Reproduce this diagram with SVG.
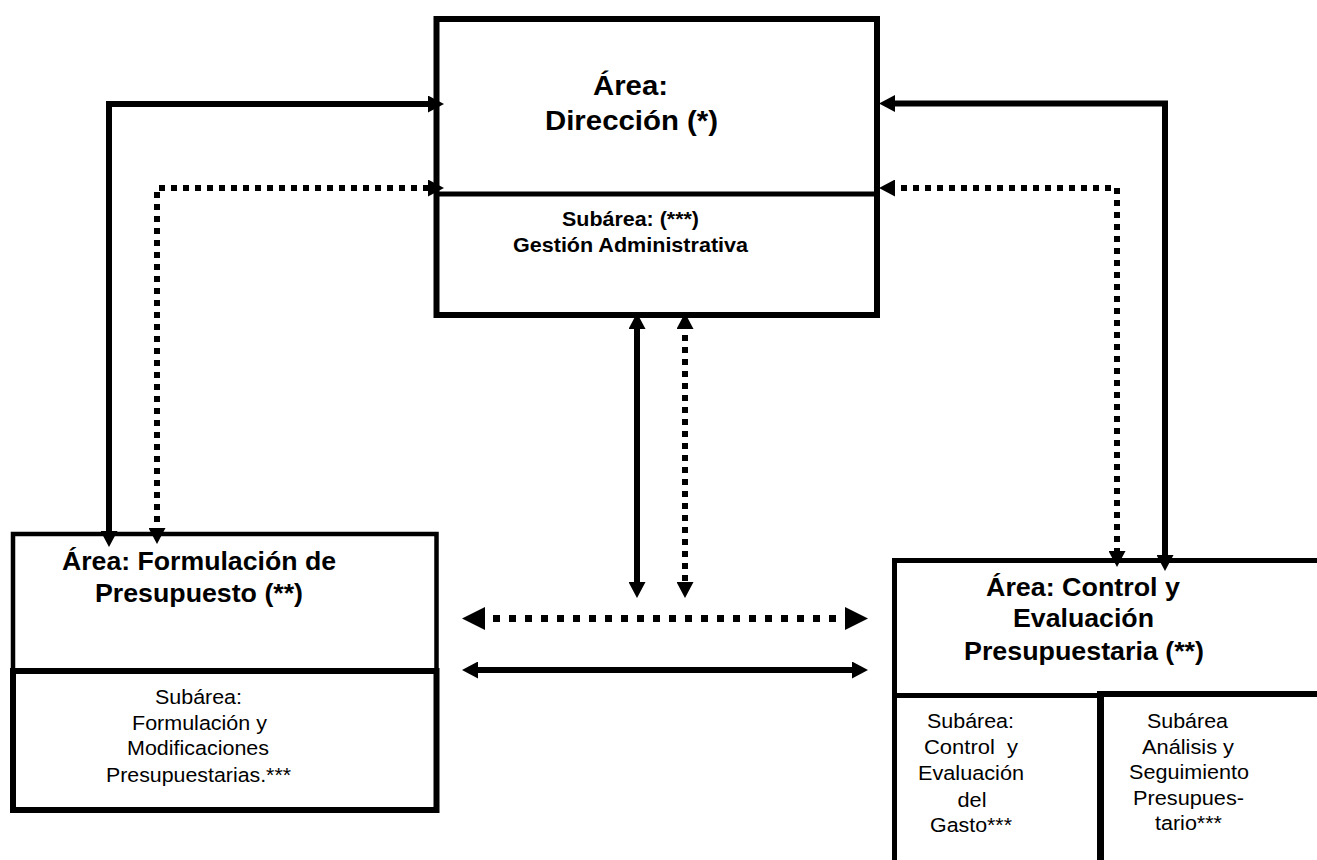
<svg xmlns="http://www.w3.org/2000/svg" width="1317" height="860" viewBox="0 0 1317 860">
  <style>
    .box { fill: none; stroke: #000; }
    .tb { font-family: "Liberation Sans", Arial, sans-serif; font-weight: bold; fill: #000; text-anchor: middle; white-space: pre; }
    .tr { font-family: "Liberation Sans", Arial, sans-serif; font-weight: normal; fill: #000; text-anchor: middle; white-space: pre; }
    .con { fill: none; stroke: #000; stroke-linejoin: miter; }
    .solid { stroke-width: 6; }
    .dot { stroke-width: 6; stroke-dasharray: 6 6; }
    .dotL { stroke-width: 7; stroke-dasharray: 7 9; }
  </style>
  <defs>
    <marker id="ah" viewBox="0 0 16 17" refX="6" refY="8.5" markerWidth="16" markerHeight="17" markerUnits="userSpaceOnUse" orient="auto-start-reverse">
      <path d="M0,0 L16,8.5 L0,17 z" fill="#000"/>
    </marker>
    <marker id="ahL" viewBox="0 0 23 23" refX="8" refY="11.5" markerWidth="23" markerHeight="23" markerUnits="userSpaceOnUse" orient="auto-start-reverse">
      <path d="M0,0 L23,11.5 L0,23 z" fill="#000"/>
    </marker>
  </defs>
  <rect x="0" y="0" width="1317" height="860" fill="#fff"/>

  <g id="connectors">
    <path class="con solid" d="M109,537 L109,104 L434,104" marker-start="url(#ah)" marker-end="url(#ah)"/>
    <path class="con dot" d="M157,534 L157,188 L434,188" marker-start="url(#ah)" marker-end="url(#ah)"/>
    <path class="con solid" d="M889,103.5 L1165,103.5 L1165,561" marker-start="url(#ah)" marker-end="url(#ah)"/>
    <path class="con dot" d="M889,188 L1117,188 L1117,557" marker-start="url(#ah)" marker-end="url(#ah)"/>
    <path class="con solid" d="M637,323 L637,588" marker-start="url(#ah)" marker-end="url(#ah)"/>
    <path class="con dot" d="M685,323 L685,588" marker-start="url(#ah)" marker-end="url(#ah)"/>
    <path class="con dotL" d="M477,618.5 L853,618.5" marker-start="url(#ahL)" marker-end="url(#ahL)"/>
    <path class="con solid" d="M472,670 L858,670" marker-start="url(#ah)" marker-end="url(#ah)"/>
  </g>

  <g id="direccion">
    <rect class="box" x="436.5" y="19" width="440.5" height="296" stroke-width="6"/>
    <line class="box" x1="436.5" y1="194" x2="877" y2="194" stroke-width="5"/>
    <text class="tb" x="630.5" y="95" font-size="28" textLength="75" lengthAdjust="spacingAndGlyphs">Área:</text>
    <text class="tb" x="631.5" y="130" font-size="28" textLength="173" lengthAdjust="spacingAndGlyphs">Dirección (*)</text>
    <text class="tb" x="630.5" y="226" font-size="20.5" textLength="137" lengthAdjust="spacingAndGlyphs">Subárea: (***)</text>
    <text class="tb" x="630.5" y="252" font-size="20.5" textLength="235" lengthAdjust="spacingAndGlyphs">Gestión Administrativa</text>
  </g>

  <g id="formulacion">
    <rect class="box" x="13" y="534" width="423.5" height="137" stroke-width="4.5"/>
    <rect class="box" x="13" y="671" width="423.5" height="139" stroke-width="6"/>
    <text class="tb" x="199" y="570" font-size="25" textLength="274" lengthAdjust="spacingAndGlyphs">Área: Formulación de</text>
    <text class="tb" x="199" y="602" font-size="25" textLength="208" lengthAdjust="spacingAndGlyphs">Presupuesto (**)</text>
    <text class="tr" x="198.5" y="704" font-size="20.5" textLength="87" lengthAdjust="spacingAndGlyphs">Subárea:</text>
    <text class="tr" x="199.5" y="730" font-size="20.5" textLength="135" lengthAdjust="spacingAndGlyphs">Formulación y</text>
    <text class="tr" x="198" y="755" font-size="20.5" textLength="142" lengthAdjust="spacingAndGlyphs">Modificaciones</text>
    <text class="tr" x="198.5" y="782" font-size="20.5" textLength="185" lengthAdjust="spacingAndGlyphs">Presupuestarias.***</text>
  </g>

  <g id="control">
    <path class="box" d="M1320,560.5 L894.5,560.5 L894.5,870" stroke-width="5"/>
    <line class="box" x1="894.5" y1="695.5" x2="1100.5" y2="695.5" stroke-width="5"/>
    <line class="box" x1="1100.5" y1="694" x2="1320" y2="694" stroke-width="6"/>
    <line class="box" x1="1100.5" y1="691" x2="1100.5" y2="870" stroke-width="7"/>
    <text class="tb" x="1083" y="595.5" font-size="25" textLength="194" lengthAdjust="spacingAndGlyphs">Área: Control y</text>
    <text class="tb" x="1083.5" y="627" font-size="25" textLength="141" lengthAdjust="spacingAndGlyphs">Evaluación</text>
    <text class="tb" x="1084" y="660" font-size="25" textLength="240" lengthAdjust="spacingAndGlyphs">Presupuestaria (**)</text>
    <text class="tr" x="970.5" y="727.5" font-size="20.5" textLength="87" lengthAdjust="spacingAndGlyphs">Subárea:</text>
    <text class="tr" x="971" y="754" font-size="20.5" textLength="94" lengthAdjust="spacingAndGlyphs">Control  y</text>
    <text class="tr" x="971" y="780" font-size="20.5" textLength="106" lengthAdjust="spacingAndGlyphs">Evaluación</text>
    <text class="tr" x="972" y="806.5" font-size="20.5" textLength="29" lengthAdjust="spacingAndGlyphs">del</text>
    <text class="tr" x="971" y="831.5" font-size="20.5" textLength="82" lengthAdjust="spacingAndGlyphs">Gasto***</text>
    <text class="tr" x="1187.5" y="727.5" font-size="20.5" textLength="81" lengthAdjust="spacingAndGlyphs">Subárea</text>
    <text class="tr" x="1188" y="754" font-size="20.5" textLength="92" lengthAdjust="spacingAndGlyphs">Análisis y</text>
    <text class="tr" x="1189" y="779" font-size="20.5" textLength="120" lengthAdjust="spacingAndGlyphs">Seguimiento</text>
    <text class="tr" x="1188.5" y="805" font-size="20.5" textLength="111" lengthAdjust="spacingAndGlyphs">Presupues-</text>
    <text class="tr" x="1188.5" y="830" font-size="20.5" textLength="67" lengthAdjust="spacingAndGlyphs">tario***</text>
  </g>
</svg>
